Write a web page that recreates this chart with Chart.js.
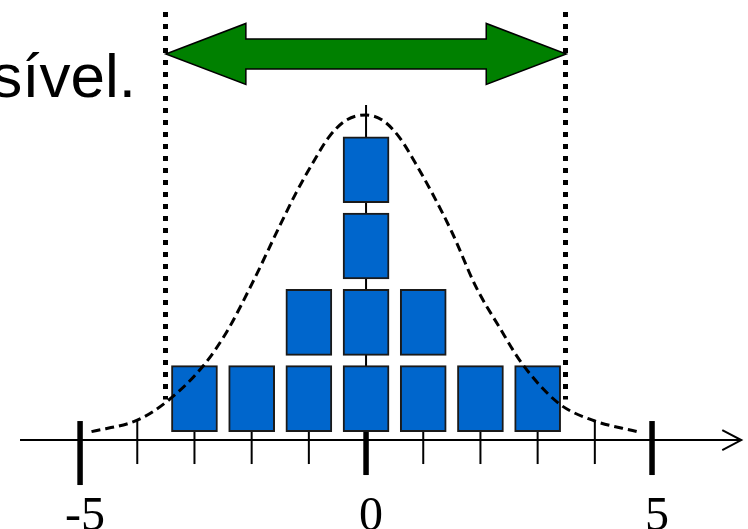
<!DOCTYPE html>
<html>
<head>
<meta charset="utf-8">
<script src="https://cdn.jsdelivr.net/npm/chart.js@4.4.1/dist/chart.umd.min.js"></script>
<style>
  html, body { margin: 0; padding: 0; background: #fff; }
  #plot { display: block; }
</style>
</head>
<body>
<canvas id="plot" width="748" height="529"></canvas>
<script>
// number line
const lineTicks = [-5, -4, -3, -2, -1, 0, 1, 2, 3, 4, 5];
const majorTicks = [-5, 0, 5];
const tickLabels = ['-5', '0', '5'];

// stacked squares: how many per value
const categories = [-3, -2, -1, 0, 1, 2, 3];
const counts = [1, 1, 2, 4, 2, 1, 1];

// dashed bell curve
const curveX = [-4.8, -4.0, -3.49, -2.86, -2.45, -1.98, -1.52, -1.23, -0.94, -0.65, -0.35, 0,
                0.29, 0.58, 0.87, 1.16, 1.51, 1.92, 2.33, 2.73, 3.37, 3.96, 4.74];
const curveY = [0.11, 0.26, 0.50, 0.96, 1.40, 2.07, 2.79, 3.23, 3.62, 3.97, 4.19, 4.26,
                4.19, 3.97, 3.62, 3.23, 2.71, 2.01, 1.48, 1.00, 0.48, 0.26, 0.11];

// range marked by the dotted lines and the green arrow
const spread = [-3.5, 3.5];
const heading = 'sível.';

// each square is a floating bar from row n-1 to n, with a little gap
const boxes = [];
categories.forEach((c, i) => {
  for (let n = 1; n <= counts[i]; n++) {
    boxes.push({ x: c, y: [n - 1 + 0.11, n - 0.025] });
  }
});
const curve = curveX.map((x, i) => ({ x: x, y: curveY[i] }));

const numberLine = {
  id: 'numberLine',
  beforeDatasetsDraw(chart) {
    const ctx = chart.ctx, xs = chart.scales.x, ys = chart.scales.y;
    const y0 = ys.getPixelForValue(0);
    ctx.save();
    ctx.strokeStyle = '#000';

    // axis with open arrow head
    ctx.lineWidth = 2;
    ctx.beginPath();
    ctx.moveTo(xs.getPixelForValue(-6.05), y0);
    ctx.lineTo(xs.getPixelForValue(6.56), y0);
    ctx.stroke();
    const tip = xs.getPixelForValue(6.56);
    ctx.beginPath();
    ctx.moveTo(tip - 19, y0 - 10);
    ctx.lineTo(tip, y0);
    ctx.lineTo(tip - 19, y0 + 10);
    ctx.stroke();

    // centre line through the column at 0
    ctx.beginPath();
    ctx.moveTo(xs.getPixelForValue(0), ys.getPixelForValue(4.39));
    ctx.lineTo(xs.getPixelForValue(0), y0);
    ctx.stroke();

    lineTicks.forEach(t => {
      const px = xs.getPixelForValue(t);
      ctx.beginPath();
      if (majorTicks.includes(t)) {
        ctx.lineWidth = 5.5;
        ctx.moveTo(px, y0 - 19);
        ctx.lineTo(px, y0 + (t === -5 ? 45 : 35));
      } else {
        ctx.lineWidth = 2;
        ctx.moveTo(px, y0 - 20);
        ctx.lineTo(px, y0 + 24);
      }
      ctx.stroke();
    });

    // dotted limits
    ctx.lineWidth = 5;
    ctx.setLineDash([5, 7]);
    spread.forEach(v => {
      const px = Math.round(xs.getPixelForValue(v)) - 0.5;
      ctx.beginPath();
      ctx.moveTo(px, ys.getPixelForValue(5.61));
      ctx.lineTo(px, ys.getPixelForValue(0.53));
      ctx.stroke();
    });
    ctx.restore();
  },
  afterDatasetsDraw(chart) {
    const ctx = chart.ctx, xs = chart.scales.x, ys = chart.scales.y;
    ctx.save();

    // tick labels
    ctx.fillStyle = '#000';
    ctx.font = '48px "Liberation Serif", "Times New Roman", serif';
    ctx.textAlign = 'center';
    ctx.textBaseline = 'alphabetic';
    majorTicks.forEach((t, i) => {
      ctx.fillText(tickLabels[i], xs.getPixelForValue(t) + 5, ys.getPixelForValue(0) + 90);
    });

    // double headed arrow between the limits
    const l = xs.getPixelForValue(spread[0]), r = xs.getPixelForValue(spread[1]);
    const cy = ys.getPixelForValue(5.06);
    const head = 80, hh = 30.5, sh = 15;
    ctx.beginPath();
    ctx.moveTo(l, cy);
    ctx.lineTo(l + head, cy - hh);
    ctx.lineTo(l + head, cy - sh);
    ctx.lineTo(r - head, cy - sh);
    ctx.lineTo(r - head, cy - hh);
    ctx.lineTo(r, cy);
    ctx.lineTo(r - head, cy + hh);
    ctx.lineTo(r - head, cy + sh);
    ctx.lineTo(l + head, cy + sh);
    ctx.lineTo(l + head, cy + hh);
    ctx.closePath();
    ctx.fillStyle = '#008000';
    ctx.fill();
    ctx.lineWidth = 1.5;
    ctx.strokeStyle = '#000';
    ctx.stroke();

    // end of the sentence above the chart
    ctx.fillStyle = '#000';
    ctx.font = '62px "Liberation Sans", Arial, sans-serif';
    ctx.textAlign = 'right';
    ctx.fillText(heading, 136, 97);
    ctx.restore();
  }
};

new Chart(document.getElementById('plot'), {
  data: {
    datasets: [
      {
        type: 'line',
        data: curve,
        borderColor: '#000',
        borderWidth: 3,
        borderDash: [9, 5],
        pointRadius: 0,
        fill: false,
        cubicInterpolationMode: 'monotone',
        order: 0
      },
      {
        type: 'bar',
        data: boxes,
        backgroundColor: '#0066CC',
        borderColor: '#1a1a1a',
        borderWidth: 2,
        borderSkipped: false,
        barThickness: 46,
        order: 1
      }
    ]
  },
  options: {
    responsive: false,
    animation: false,
    layout: { padding: 0 },
    plugins: { legend: { display: false }, tooltip: { enabled: false } },
    scales: {
      x: { type: 'linear', min: -6.4, max: 6.678, offset: false, display: false },
      y: { type: 'linear', min: -1.166, max: 5.767, display: false }
    }
  },
  plugins: [numberLine]
});
</script>
</body>
</html>
